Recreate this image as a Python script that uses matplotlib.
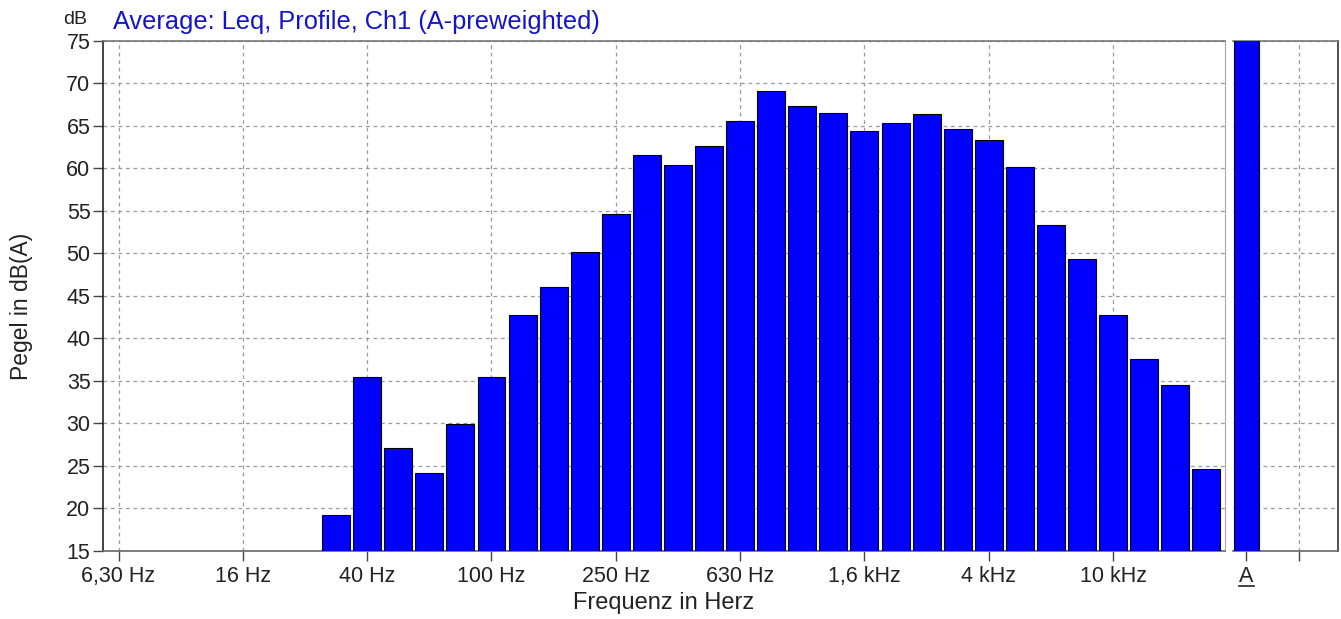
import numpy as np
import matplotlib
matplotlib.use("Agg")
import matplotlib.pyplot as plt

plt.rcParams['font.family'] = ['Liberation Sans', 'DejaVu Sans']

# third-octave bands 31,5 Hz .. 20 kHz
bands = ["31,5", "40", "50", "63", "80", "100", "125", "160", "200", "250",
         "315", "400", "500", "630", "800", "1k", "1,25k", "1,6k", "2k",
         "2,5k", "3,15k", "4k", "5k", "6,3k", "8k", "10k", "12,5k", "16k", "20k"]
levels = [19.2, 35.5, 27.1, 24.2, 29.9, 35.5, 42.8, 46.1, 50.2, 54.7,
          61.6, 60.4, 62.7, 65.6, 69.1, 67.3, 66.5, 64.4, 65.4,
          66.4, 64.6, 63.4, 60.2, 53.4, 49.4, 42.8, 37.6, 34.5, 24.7]
total_a = 78.0  # A-weighted sum, above the top of the scale

tick_labels = ["6,30 Hz", "16 Hz", "40 Hz", "100 Hz", "250 Hz", "630 Hz",
               "1,6 kHz", "4 kHz", "10 kHz"]

# band index: 6,3 Hz = 0, 31,5 Hz = 7
first_band = 7
x = np.arange(len(levels)) + first_band

fig = plt.figure(figsize=(13.41, 6.19), dpi=100)
ax = fig.add_axes([0.0768, 0.1099, 0.8367, 0.8239])
ax2 = fig.add_axes([0.9195, 0.1099, 0.0783, 0.8239])

ymin, ymax = 15, 75
ax.bar(x, np.array(levels) - ymin, bottom=ymin, width=0.9,
       color="#0000ff", edgecolor="black", linewidth=0.8, zorder=3)
ax.set_xlim(-0.5, 35.6)
ax.set_ylim(ymin, ymax)
ax.set_xticks(np.arange(0, 33, 4))
ax.set_xticklabels(tick_labels)
ax.set_yticks(np.arange(15, 76, 5))

ax2.bar([0], [total_a - ymin], bottom=ymin, width=0.8,
        color="#0000ff", edgecolor="black", linewidth=0.8, zorder=3)
ax2.set_xlim(-0.42, 2.95)
ax2.set_ylim(ymin, ymax)
ax2.set_xticks([0, 1.7])
ax2.set_xticklabels(["A", ""])
ax2.set_yticks(np.arange(15, 76, 5))
ax2.tick_params(axis="y", left=False, labelleft=False)
# underline under "A"
ax2.plot([-0.24, 0.24], [-0.068, -0.068], color="#222222", lw=1.2,
         transform=ax2.get_xaxis_transform(), clip_on=False)

for a in (ax, ax2):
    a.grid(True, color="#999999", linestyle=(0, (3, 3)), linewidth=0.9, zorder=0)
    a.tick_params(axis="both", direction="out", length=7, width=1,
                  color="#444444", labelsize=15.5, labelcolor="#222222")
    for s in a.spines.values():
        s.set_color("#777777")
        s.set_linewidth(1.2)
    a.spines["left"].set_color("#222222")
    a.spines["bottom"].set_color("#666666")

ax.tick_params(axis="y", pad=2)
ax.spines["right"].set_color("#aaaaaa")
ax.spines["right"].set_linewidth(0.8)
ax2.spines["left"].set_visible(False)
ax2.spines["right"].set_color("#333333")

ax.set_xlabel("Frequenz in Herz", fontsize=17, color="#222222", labelpad=4)
ax.set_ylabel("Pegel in dB(A)", fontsize=16.5, color="#222222")
ax.yaxis.set_label_coords(-0.062, 0.48)
fig.text(0.047, 0.968, "dB", fontsize=14, color="#222222", va="center")
fig.text(0.084, 0.965, "Average: Leq, Profile, Ch1 (A-preweighted)",
         fontsize=18.3, color="#1414c8", va="center")

fig.savefig("out.png", dpi=100)
